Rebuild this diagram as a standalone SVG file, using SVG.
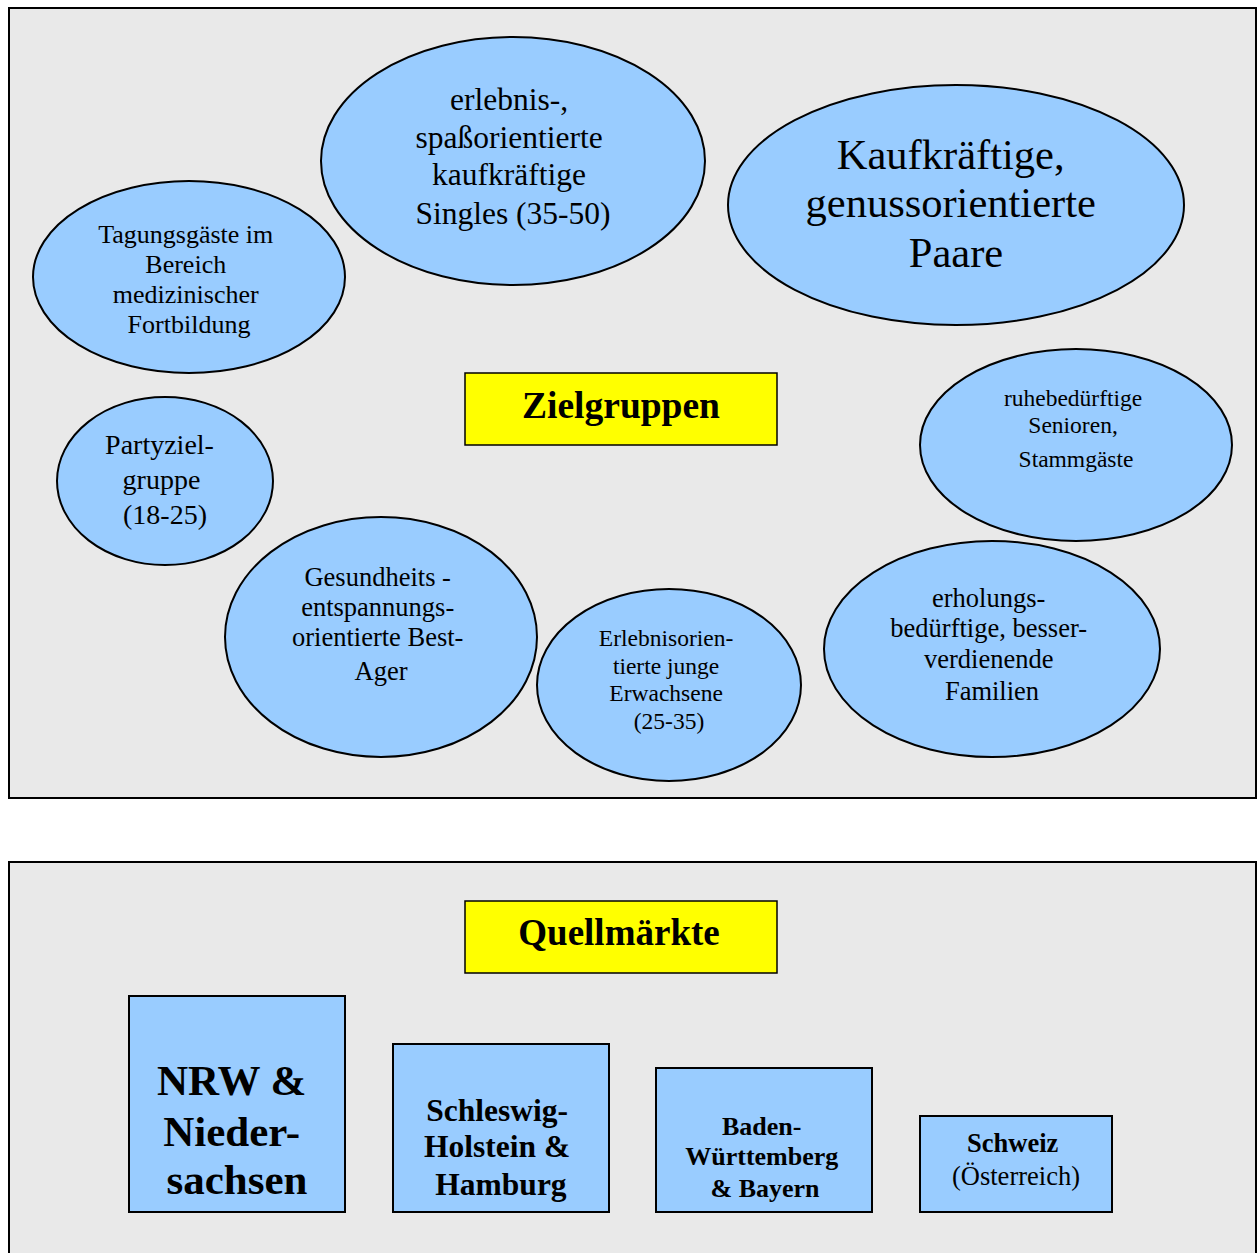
<svg xmlns="http://www.w3.org/2000/svg" width="1258" height="1253" viewBox="0 0 1258 1253">
  <style>
    .panel { fill: #e9e9e9; stroke: #000; stroke-width: 2; }
    .bubble { fill: #99ccff; stroke: #000; stroke-width: 2; }
    .box { fill: #99ccff; stroke: #000; stroke-width: 2; }
    .title { fill: #ffff00; stroke: #000; stroke-width: 1.5; }
    text { font-family: "Liberation Serif", "Times New Roman", serif; fill: #000; text-anchor: middle; }
    .b { font-weight: bold; }
  </style>
  <rect width="1258" height="1253" fill="#fff"/>

  <!-- Target groups panel -->
  <rect class="panel" x="9" y="8" width="1247" height="790"/>
  <!-- Source markets panel (runs off the bottom edge) -->
  <rect class="panel" x="9" y="862" width="1247" height="400"/>

  <g id="connectors"></g>

  <g id="zielgruppen">
    <rect class="title" x="465" y="373" width="312" height="72"/>
    <text class="b" x="621" y="418" font-size="37.5">Zielgruppen</text>
  </g>

  <g id="tagungsgaeste">
    <ellipse class="bubble" cx="189" cy="277" rx="156" ry="96"/>
    <text font-size="26">
      <tspan x="189" y="243">Tagungsgäste im</tspan>
      <tspan x="189" y="273">Bereich</tspan>
      <tspan x="189" y="303">medizinischer</tspan>
      <tspan x="189" y="333">Fortbildung</tspan>
    </text>
  </g>

  <g id="singles">
    <ellipse class="bubble" cx="513" cy="161" rx="192" ry="124"/>
    <text font-size="31.5">
      <tspan x="513" y="110">erlebnis-,</tspan>
      <tspan x="513" y="148">spaßorientierte</tspan>
      <tspan x="513" y="185">kaufkräftige</tspan>
      <tspan x="513" y="224">Singles (35-50)</tspan>
    </text>
  </g>

  <g id="paare">
    <ellipse class="bubble" cx="956" cy="205" rx="228" ry="120"/>
    <text font-size="42.5">
      <tspan x="956" y="169">Kaufkräftige,</tspan>
      <tspan x="956" y="217">genussorientierte</tspan>
      <tspan x="956" y="267">Paare</tspan>
    </text>
  </g>

  <g id="senioren">
    <ellipse class="bubble" cx="1076" cy="445" rx="156" ry="96"/>
    <text font-size="23.5">
      <tspan x="1076" y="406">ruhebedürftige</tspan>
      <tspan x="1076" y="433">Senioren,</tspan>
      <tspan x="1076" y="467">Stammgäste</tspan>
    </text>
  </g>

  <g id="partyzielgruppe">
    <ellipse class="bubble" cx="165" cy="481" rx="108" ry="84"/>
    <text font-size="28">
      <tspan x="163" y="454">Partyziel-</tspan>
      <tspan x="165" y="489">gruppe</tspan>
      <tspan x="165" y="524">(18-25)</tspan>
    </text>
  </g>

  <g id="best-ager">
    <ellipse class="bubble" cx="381" cy="637" rx="156" ry="120"/>
    <text font-size="26.5">
      <tspan x="381" y="586">Gesundheits -</tspan>
      <tspan x="381" y="616">entspannungs-</tspan>
      <tspan x="381" y="646">orientierte Best-</tspan>
      <tspan x="381" y="680">Ager</tspan>
    </text>
  </g>

  <g id="junge-erwachsene">
    <ellipse class="bubble" cx="669" cy="685" rx="132" ry="96"/>
    <text font-size="23.5">
      <tspan x="669" y="646">Erlebnisorien-</tspan>
      <tspan x="669" y="674">tierte junge</tspan>
      <tspan x="669" y="701">Erwachsene</tspan>
      <tspan x="669" y="729">(25-35)</tspan>
    </text>
  </g>

  <g id="familien">
    <ellipse class="bubble" cx="992" cy="649" rx="168" ry="108"/>
    <text font-size="26.5">
      <tspan x="992" y="607">erholungs-</tspan>
      <tspan x="992" y="637">bedürftige, besser-</tspan>
      <tspan x="992" y="668">verdienende</tspan>
      <tspan x="992" y="700">Familien</tspan>
    </text>
  </g>

  <g id="quellmaerkte">
    <rect class="title" x="465" y="901" width="312" height="72"/>
    <text class="b" x="619" y="945" font-size="37">Quellmärkte</text>
  </g>

  <g id="nrw">
    <rect class="box" x="129" y="996" width="216" height="216"/>
    <text class="b" font-size="43">
      <tspan x="237" y="1095">NRW &amp;</tspan>
      <tspan x="237" y="1146">Nieder-</tspan>
      <tspan x="237" y="1194">sachsen</tspan>
    </text>
  </g>

  <g id="schleswig-holstein">
    <rect class="box" x="393" y="1044" width="216" height="168"/>
    <text class="b" font-size="31.5">
      <tspan x="501" y="1121">Schleswig-</tspan>
      <tspan x="501" y="1157">Holstein &amp;</tspan>
      <tspan x="501" y="1195">Hamburg</tspan>
    </text>
  </g>

  <g id="baden-wuerttemberg">
    <rect class="box" x="656" y="1068" width="216" height="144"/>
    <text class="b" font-size="26">
      <tspan x="765" y="1135">Baden-</tspan>
      <tspan x="765" y="1165">Württemberg</tspan>
      <tspan x="765" y="1197">&amp; Bayern</tspan>
    </text>
  </g>

  <g id="schweiz">
    <rect class="box" x="920" y="1116" width="192" height="96"/>
    <text font-size="26.5">
      <tspan class="b" x="1016" y="1152">Schweiz</tspan>
      <tspan x="1016" y="1185">(Österreich)</tspan>
    </text>
  </g>
</svg>
